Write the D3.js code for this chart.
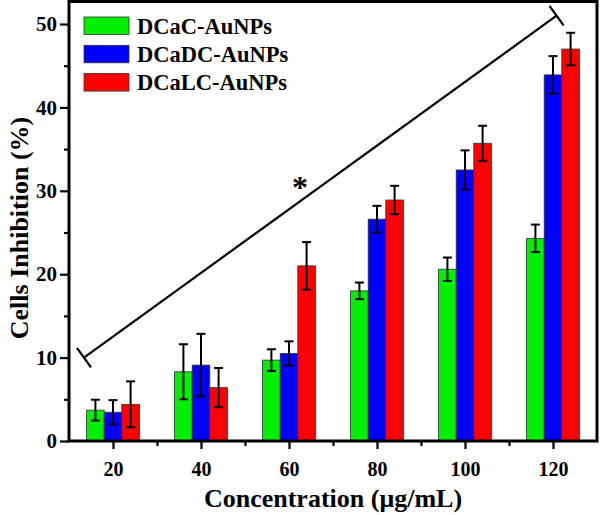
<!DOCTYPE html>
<html>
<head>
<meta charset="utf-8">
<script src="https://cdn.jsdelivr.net/npm/d3@7"></script>
<style>
  html, body { margin: 0; padding: 0; background: #fff; }
  svg { display: block; }
  text { font-family: "Liberation Serif", "Times New Roman", serif; font-weight: bold; fill: #000; }
</style>
</head>
<body>
<svg id="chart" width="600" height="515"></svg>
<script>
// ---- data ----
const concentrations = [20, 40, 60, 80, 100, 120];
const seriesNames = ["DCaC-AuNPs", "DCaDC-AuNPs", "DCaLC-AuNPs"];
const seriesColors = ["#00f000", "#0000ff", "#ff0000"];
const dcacValues  = [3.7, 8.3, 9.7, 18.0, 20.6, 24.3];
const dcacErrors  = [1.25, 3.3, 1.3, 1.0, 1.4, 1.65];
const dcadcValues = [3.45, 9.1, 10.5, 26.6, 32.5, 43.9];
const dcadcErrors = [1.45, 3.75, 1.45, 1.6, 2.35, 2.25];
const dcalcValues = [4.4, 6.4, 21.0, 28.9, 35.7, 47.0];
const dcalcErrors = [2.75, 2.35, 2.85, 1.7, 2.1, 1.95];
const xTicks = [20, 40, 60, 80, 100, 120];
const xMinorTicks = [30, 50, 70, 90, 110];
const yTicks = [0, 10, 20, 30, 40, 50];
const yMinorTicks = [5, 15, 25, 35, 45];
const sigStart = [13.4, 10];
const sigEnd = [120.8, 51];
const sigMark = [62.5, 31];
const barWidthData = 4;

const seriesValues = [dcacValues, dcadcValues, dcalcValues];
const seriesErrors = [dcacErrors, dcadcErrors, dcalcErrors];

// ---- layout ----
const L = 69, R = 597, T = 1.5, B = 441;
const svg = d3.select("#chart");
const x = d3.scaleLinear().domain([10, 130]).range([L, R]);
const y = d3.scaleLinear().domain([0, 52.7]).range([B, T]);

const rows = [];
concentrations.forEach((c, i) => {
  seriesNames.forEach((s, k) => {
    rows.push({ c, k, v: seriesValues[k][i], e: seriesErrors[k][i] });
  });
});

const bw = x(barWidthData) - x(0);
const offset = k => (k - 1) * barWidthData;

// bars
svg.append("g").selectAll("rect").data(rows).join("rect")
  .attr("x", d => x(d.c + offset(d.k)) - bw / 2)
  .attr("y", d => y(d.v))
  .attr("width", bw)
  .attr("height", d => y(0) - y(d.v))
  .attr("fill", d => seriesColors[d.k])
  .attr("stroke", "#333")
  .attr("stroke-width", 0.8);

// error bars
const eg = svg.append("g").attr("stroke", "#000").attr("stroke-width", 2);
rows.forEach(d => {
  const cx = x(d.c + offset(d.k));
  eg.append("line").attr("x1", cx).attr("x2", cx).attr("y1", y(d.v - d.e)).attr("y2", y(d.v + d.e));
  [d.v - d.e, d.v + d.e].forEach(v => {
    eg.append("line").attr("x1", cx - 4.5).attr("x2", cx + 4.5).attr("y1", y(v)).attr("y2", y(v));
  });
});

// axes
const xAxis = d3.axisBottom(x).tickValues(xTicks).tickSize(8).tickPadding(13).tickFormat(d3.format("d"));
const xMinor = d3.axisBottom(x).tickValues(xMinorTicks).tickSize(5).tickFormat("");
const yAxis = d3.axisLeft(y).tickValues(yTicks).tickSize(9).tickPadding(3).tickFormat(d3.format("d"));
const yMinor = d3.axisLeft(y).tickValues(yMinorTicks).tickSize(5).tickFormat("");

function styleAxis(size) {
  return g => {
    g.select(".domain").remove();
    g.selectAll(".tick line").attr("stroke", "#000").attr("stroke-width", 2.2);
    g.selectAll(".tick text").style("font-size", size + "px").attr("fill", "#000");
  };
}
svg.append("g").attr("transform", `translate(0,${B})`).call(xAxis).call(styleAxis(20));
svg.append("g").attr("transform", `translate(0,${B})`).call(xMinor).call(styleAxis(20));
svg.append("g").attr("transform", `translate(${L},0)`).call(yAxis).call(styleAxis(21));
svg.append("g").attr("transform", `translate(${L},0)`).call(yMinor).call(styleAxis(21));

// frame
svg.append("rect").attr("x", L).attr("y", T).attr("width", R - L).attr("height", B - T)
  .attr("fill", "none").attr("stroke", "#000").attr("stroke-width", 3);

// significance line
const p1 = [x(sigStart[0]), y(sigStart[1])];
const p2 = [x(sigEnd[0]), y(sigEnd[1])];
svg.append("line").attr("x1", p1[0]).attr("y1", p1[1]).attr("x2", p2[0]).attr("y2", p2[1])
  .attr("stroke", "#000").attr("stroke-width", 2.2);
const dx = p2[0] - p1[0], dy = p2[1] - p1[1], len = Math.hypot(dx, dy);
const nx = -dy / len, ny = dx / len;
[p1, p2].forEach(p => {
  svg.append("line")
    .attr("x1", p[0] - nx * 12).attr("y1", p[1] - ny * 12)
    .attr("x2", p[0] + nx * 12).attr("y2", p[1] + ny * 12)
    .attr("stroke", "#000").attr("stroke-width", 2.2);
});
svg.append("text").attr("x", x(sigMark[0])).attr("y", y(sigMark[1]))
  .attr("dy", "0.5em").attr("text-anchor", "middle").style("font-size", "32px")
  .text("*");

// legend
const lg = svg.append("g");
seriesNames.forEach((s, k) => {
  const yy = 17 + k * 28.3;
  lg.append("rect").attr("x", 84).attr("y", yy).attr("width", 45).attr("height", 17.5)
    .attr("fill", seriesColors[k]).attr("stroke", "#333").attr("stroke-width", 0.8);
  lg.append("text").attr("x", 137).attr("y", yy + 8.75).attr("dy", "0.35em")
    .style("font-size", "22.5px").text(s);
});

// axis titles
svg.append("text").attr("x", (L + R) / 2).attr("y", 507).attr("text-anchor", "middle")
  .style("font-size", "26px").text("Concentration (\u03bcg/mL)");
svg.append("text").attr("transform", "translate(19,228) rotate(-90)").attr("text-anchor", "middle")
  .attr("dy", "0.35em").style("font-size", "26px").text("Cells Inhibition (%)");
</script>
</body>
</html>
